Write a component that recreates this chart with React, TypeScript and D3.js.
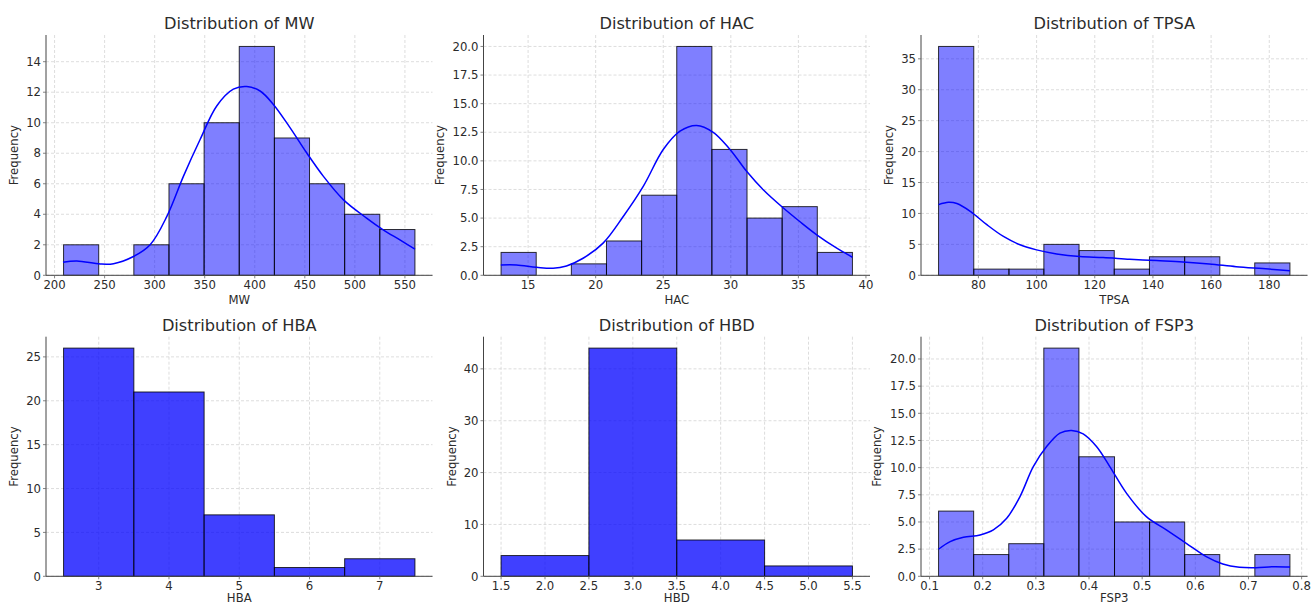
import React from "react"
import * as d3 from "d3"

const W = 1312
const H = 605

// bin edges and counts
const mwEdges = [209, 244.1, 279.2, 314.3, 349.4, 384.5, 419.6, 454.7, 489.8, 524.9, 560]
const mwCounts = [2, 0, 2, 6, 10, 15, 9, 6, 4, 3]
const mwKde: [number, number][] = [
  [208.4, 0.86], [222.3, 0.94], [245.6, 0.74], [258.9, 0.76], [278.8, 1.23], [295.5, 2.0],
  [312.2, 3.86], [328.8, 6.5], [345.4, 8.9], [362, 11.1], [378.6, 12.2], [392, 12.37],
  [405.3, 12.08], [418.6, 11.2], [435.2, 9.68], [451.8, 8.03], [468.4, 6.5], [488.4, 4.96],
  [511.7, 3.75], [528.3, 2.98], [545, 2.32], [560, 1.71],
]

const hacEdges = [13, 15.6, 18.2, 20.8, 23.4, 26, 28.6, 31.2, 33.8, 36.4, 39]
const hacCounts = [2, 0, 1, 3, 7, 20, 11, 5, 6, 2]
const hacKde: [number, number][] = [
  [12.98, 0.9], [14.14, 0.9], [15.62, 0.7], [16.85, 0.61], [17.84, 0.82], [19.07, 1.49],
  [20.55, 2.81], [22.04, 5.14], [23.52, 7.77], [25.0, 10.99], [26.24, 12.6], [27.47, 13.1],
  [28.7, 12.5], [29.94, 11.0], [31.17, 9.09], [32.4, 7.48], [33.89, 5.88], [35.1, 4.7],
  [36.36, 3.54], [37.84, 2.37], [39.0, 1.58],
]

const tpsaEdges = [66.3, 78.4, 90.5, 102.5, 114.6, 126.7, 138.8, 150.9, 163.0, 175.0, 187.1]
const tpsaCounts = [37, 1, 1, 5, 4, 1, 3, 3, 0, 2]
const tpsaKde: [number, number][] = [
  [66.3, 11.43], [69.7, 11.8], [72.6, 11.6], [77.2, 10.34], [82.9, 8.18], [88.6, 6.28],
  [94.3, 4.93], [100.0, 4.11], [106.9, 3.46], [114.9, 3.03], [122.9, 2.87], [132, 2.6],
  [141.2, 2.38], [150.3, 2.16], [159.4, 1.84], [168.6, 1.4], [177.7, 1.08], [187.1, 0.75],
]

const hbaEdges = [2.5, 3.5, 4.5, 5.5, 6.5, 7.5]
const hbaCounts = [26, 21, 7, 1, 2]

const hbdEdges = [1.5, 2.5, 3.5, 4.5, 5.5]
const hbdCounts = [4, 44, 7, 2]

const fsp3Edges = [0.117, 0.183, 0.249, 0.315, 0.381, 0.448, 0.514, 0.58, 0.646, 0.712, 0.778]
const fsp3Counts = [6, 2, 3, 21, 11, 5, 5, 2, 0, 2]
const fsp3Kde: [number, number][] = [
  [0.1169, 2.49], [0.1388, 3.19], [0.1638, 3.59], [0.1951, 3.81], [0.2201, 4.27], [0.2452, 5.34],
  [0.2702, 7.34], [0.2952, 10.1], [0.3203, 11.94], [0.3453, 13.18], [0.3672, 13.42], [0.389, 13.11],
  [0.4141, 11.94], [0.4391, 10.1], [0.4704, 7.65], [0.5079, 5.49], [0.5455, 4.27], [0.583, 3.04],
  [0.6205, 1.81], [0.6517, 1.13], [0.683, 0.83], [0.7144, 0.79], [0.7456, 0.88], [0.7782, 0.85],
]

// tick labels
const mwXTicks = [200, 250, 300, 350, 400, 450, 500, 550]
const mwYTicks = [0, 2, 4, 6, 8, 10, 12, 14]
const hacXTicks = [15, 20, 25, 30, 35, 40]
const hacYTicks = [0, 2.5, 5, 7.5, 10, 12.5, 15, 17.5, 20]
const tpsaXTicks = [80, 100, 120, 140, 160, 180]
const tpsaYTicks = [0, 5, 10, 15, 20, 25, 30, 35]
const hbaXTicks = [3, 4, 5, 6, 7]
const hbaYTicks = [0, 5, 10, 15, 20, 25]
const hbdXTicks = [1.5, 2, 2.5, 3, 3.5, 4, 4.5, 5, 5.5]
const hbdYTicks = [0, 10, 20, 30, 40]
const fsp3XTicks = [0.1, 0.2, 0.3, 0.4, 0.5, 0.6, 0.7, 0.8]
const fsp3YTicks = [0, 2.5, 5, 7.5, 10, 12.5, 15, 17.5, 20]

const colLeft = [46, 483.5, 921]
const axW = 386.5
const rowTop = [35, 336.7]
const rowBottom = [275.3, 576.3]
const xlabGap = [28.5, 25.5]
const font = "DejaVu Sans, sans-serif"
const textColor = "#2b2b2b"

type PanelDef = {
  name: string
  edges: number[]
  counts: number[]
  kde?: [number, number][]
  xTicks: number[]
  yTicks: number[]
  xFmt: string
  yFmt: string
  alpha: number
  col: number
  row: number
  ylabOffset: number
}

const panels: PanelDef[] = [
  { name: "MW", edges: mwEdges, counts: mwCounts, kde: mwKde, xTicks: mwXTicks, yTicks: mwYTicks, xFmt: "d", yFmt: "d", alpha: 0.5, col: 0, row: 0, ylabOffset: 28 },
  { name: "HAC", edges: hacEdges, counts: hacCounts, kde: hacKde, xTicks: hacXTicks, yTicks: hacYTicks, xFmt: "d", yFmt: ".1f", alpha: 0.5, col: 1, row: 0, ylabOffset: 40 },
  { name: "TPSA", edges: tpsaEdges, counts: tpsaCounts, kde: tpsaKde, xTicks: tpsaXTicks, yTicks: tpsaYTicks, xFmt: "d", yFmt: "d", alpha: 0.5, col: 2, row: 0, ylabOffset: 28 },
  { name: "HBA", edges: hbaEdges, counts: hbaCounts, xTicks: hbaXTicks, yTicks: hbaYTicks, xFmt: "d", yFmt: "d", alpha: 0.75, col: 0, row: 1, ylabOffset: 28 },
  { name: "HBD", edges: hbdEdges, counts: hbdCounts, xTicks: hbdXTicks, yTicks: hbdYTicks, xFmt: ".1f", yFmt: "d", alpha: 0.75, col: 1, row: 1, ylabOffset: 28 },
  { name: "FSP3", edges: fsp3Edges, counts: fsp3Counts, kde: fsp3Kde, xTicks: fsp3XTicks, yTicks: fsp3YTicks, xFmt: ".1f", yFmt: ".1f", alpha: 0.5, col: 2, row: 1, ylabOffset: 40 },
]

const Panel = ({ p }: { p: PanelDef }) => {
  const left = colLeft[p.col]
  const right = left + axW
  const top = rowTop[p.row]
  const bottom = rowBottom[p.row]

  const lo = p.edges[0]
  const hi = p.edges[p.edges.length - 1]
  const pad = (hi - lo) * 0.05
  const x = d3.scaleLinear().domain([lo - pad, hi + pad]).range([left, right])
  const y = d3.scaleLinear().domain([0, d3.max(p.counts)! * 1.05]).range([bottom, top])
  const fx = d3.format(p.xFmt)
  const fy = d3.format(p.yFmt)

  const line = d3
    .line<[number, number]>()
    .x(d => x(d[0]))
    .y(d => y(d[1]))
    .curve(d3.curveCatmullRom)

  const midX = (left + right) / 2
  const midY = (top + bottom) / 2

  return (
    <g>
      {/* grid */}
      {p.xTicks.map(t => (
        <line key={"gx" + t} x1={x(t)} x2={x(t)} y1={top} y2={bottom} stroke="#d4d4d4" strokeWidth={0.8} strokeDasharray="3 2" />
      ))}
      {p.yTicks.map(t => (
        <line key={"gy" + t} x1={left} x2={right} y1={y(t)} y2={y(t)} stroke="#d4d4d4" strokeWidth={0.8} strokeDasharray="3 2" />
      ))}

      {/* bars */}
      {p.counts.map((c, i) =>
        c > 0 ? (
          <rect
            key={"b" + i}
            x={x(p.edges[i])}
            y={y(c)}
            width={x(p.edges[i + 1]) - x(p.edges[i])}
            height={y(0) - y(c)}
            fill="#0000ff"
            fillOpacity={p.alpha}
            stroke="#000"
            strokeOpacity={0.8}
            strokeWidth={1}
          />
        ) : null
      )}

      {p.kde && <path d={line(p.kde) || ""} fill="none" stroke="#0000ff" strokeWidth={1.5} />}

      {/* spines */}
      <line x1={left} x2={left} y1={top} y2={bottom} stroke="#444" strokeWidth={1} />
      <line x1={left} x2={right} y1={bottom} y2={bottom} stroke="#444" strokeWidth={1} />

      {/* ticks */}
      {p.xTicks.map(t => (
        <g key={"tx" + t}>
          <line x1={x(t)} x2={x(t)} y1={bottom} y2={bottom + 3} stroke="#666" strokeWidth={0.8} />
          <text x={x(t)} y={bottom + 14} textAnchor="middle" fontSize={11.7} fontFamily={font} fill={textColor}>
            {fx(t)}
          </text>
        </g>
      ))}
      {p.yTicks.map(t => (
        <g key={"ty" + t}>
          <line x1={left - 3} x2={left} y1={y(t)} y2={y(t)} stroke="#666" strokeWidth={0.8} />
          <text x={left - 5} y={y(t) + 4.2} textAnchor="end" fontSize={11.7} fontFamily={font} fill={textColor}>
            {fy(t)}
          </text>
        </g>
      ))}

      {/* labels */}
      <text x={midX} y={top - 6} textAnchor="middle" fontSize={16.2} fontFamily={font} fill={textColor}>
        {"Distribution of " + p.name}
      </text>
      <text x={midX} y={bottom + xlabGap[p.row]} textAnchor="middle" fontSize={11.7} fontFamily={font} fill={textColor}>
        {p.name}
      </text>
      <text
        transform={`translate(${left - p.ylabOffset},${midY}) rotate(-90)`}
        textAnchor="middle"
        fontSize={11.7}
        fontFamily={font}
        fill={textColor}
      >
        Frequency
      </text>
    </g>
  )
}

const App = () => {
  return (
    <div style={{ position: "absolute", left: 0, top: 0 }}>
      <svg width={W} height={H} style={{ display: "block", background: "#fff" }}>
        {panels.map(p => (
          <Panel key={p.name} p={p} />
        ))}
      </svg>
    </div>
  )
}

export default App
